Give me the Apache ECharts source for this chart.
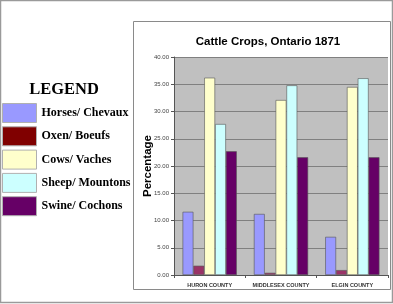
<!DOCTYPE html>
<html><head><meta charset="utf-8">
<script src="https://cdn.jsdelivr.net/npm/echarts@6/dist/echarts.min.js"></script>
<style>html,body{margin:0;padding:0;background:#fff}#c{width:393px;height:304px}</style>
</head><body><div id="c"></div>
<script>
const categories = ['HURON COUNTY', 'MIDDLESEX COUNTY', 'ELGIN COUNTY'];
const seriesNames = ['Horses/ Chevaux', 'Oxen/ Boeufs', 'Cows/ Vaches', 'Sheep/ Mountons', 'Swine/ Cochons'];
const horses = [11.6, 11.2, 7.0];
const oxen = [1.7, 0.4, 0.9];
const cows = [36.2, 32.1, 34.5];
const sheep = [27.7, 34.8, 36.1];
const swine = [22.7, 21.6, 21.6];
const yTicks = [0, 5, 10, 15, 20, 25, 30, 35, 40];

const values = [horses, oxen, cows, sheep, swine];
const barColors = ['#9999ff', '#993366', '#ffffcc', '#ccffff', '#660066'];
const legendColors = ['#9999ff', '#800000', '#ffffcc', '#ccffff', '#660066'];

const chart = echarts.init(document.getElementById('c'), null, {renderer: 'canvas'});
chart.setOption({
  animation: false,
  backgroundColor: '#fff',
  title: [
    {text: 'Cattle Crops, Ontario 1871', left: 263, top: 31, textAlign: 'center',
     textStyle: {fontFamily: 'Liberation Sans', fontWeight: 'bold', fontSize: 11.5, color: '#000'}},
    {text: 'LEGEND', left: 59, top: 76, textAlign: 'center',
     textStyle: {fontFamily: 'Liberation Serif', fontWeight: 'bold', fontSize: 16.5, color: '#000'}}
  ],
  graphic: [
    {type: 'rect', shape: {x: 0.5, y: 0.5, width: 392, height: 302}, style: {fill: 'none', stroke: '#9a9a9a', lineWidth: 1.5}, silent: true, z: -10},
    {type: 'rect', shape: {x: 133.5, y: 21.5, width: 257, height: 268}, style: {fill: 'none', stroke: '#8a8a8a', lineWidth: 1}, silent: true, z: -10}
  ],
  legend: {
    orient: 'vertical', left: 2, top: 103, padding: 0, itemWidth: 34, itemHeight: 19, itemGap: 3.3,
    icon: 'rect',
    textStyle: {fontFamily: 'Liberation Serif', fontWeight: 'bold', fontSize: 12, color: '#000'},
    data: seriesNames.map((n, i) => ({name: n, itemStyle: {color: legendColors[i], borderColor: '#b0b0b0', borderWidth: 1}}))
  },
  grid: {left: 174, right: 5, top: 57, bottom: 29, show: true, backgroundColor: '#c0c0c0', borderWidth: 0},
  xAxis: {
    type: 'category', data: categories,
    axisLine: {lineStyle: {color: '#555', width: 1}},
    axisTick: {show: true, length: 3, lineStyle: {color: '#555'}},
    axisLabel: {interval: 0, fontFamily: 'Liberation Sans', fontSize: 5.5, fontWeight: 'bold', color: '#333', margin: 7}
  },
  yAxis: {
    type: 'value', min: 0, max: 40, interval: 5,
    name: 'Percentage', nameLocation: 'middle', nameGap: 20, nameRotate: 90, nameMoveOverlap: false,
    nameTextStyle: {fontFamily: 'Liberation Sans', fontWeight: 'bold', fontSize: 11.5, color: '#000'},
    axisLine: {show: true, lineStyle: {color: '#555', width: 1}},
    axisTick: {show: true, length: 3, lineStyle: {color: '#555'}},
    axisLabel: {fontFamily: 'Liberation Sans', fontSize: 6, color: '#444', margin: 5,
      formatter: v => yTicks.includes(v) ? v.toFixed(2) : ''},
    splitLine: {show: true, lineStyle: {color: '#808080', width: 1}}
  },
  series: seriesNames.map((n, i) => ({
    name: n, type: 'bar', data: values[i],
    barGap: '0%', barCategoryGap: '24%',
    itemStyle: {color: barColors[i], borderColor: '#555', borderWidth: 0.6}
  }))
});
</script></body></html>
